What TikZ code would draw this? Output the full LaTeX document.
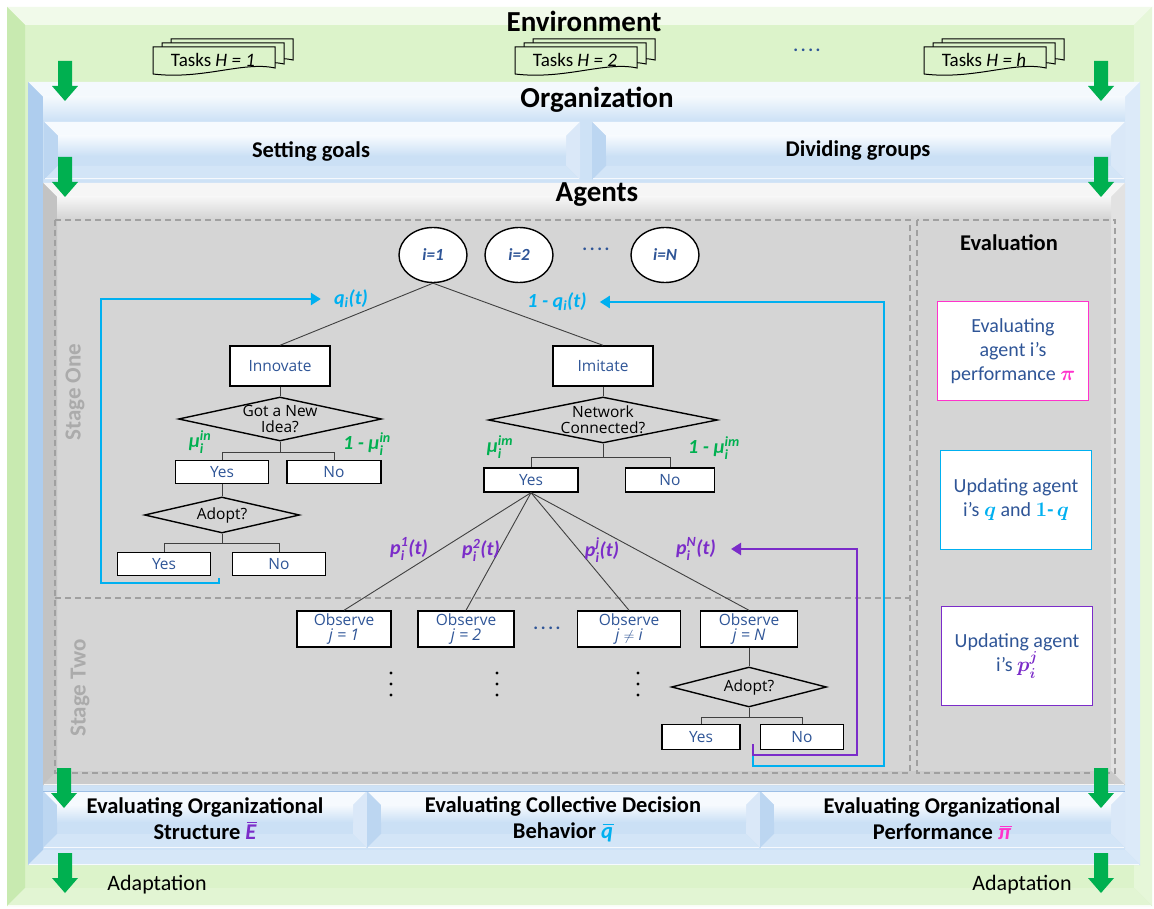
\documentclass[tikz,border=0pt]{standalone}
\usepackage{fontspec}
\usepackage{amsmath}
\usepackage{bm}
\setmainfont{Carlito}
\newfontfamily\boxfont{Open Sans}
\usetikzlibrary{shapes.geometric,arrows.meta}

% palette
\definecolor{envgreen}{HTML}{DCF3CA}
\definecolor{envgreentop}{HTML}{F1FAEA}
\definecolor{envgreenleft}{HTML}{C8EAB0}
\definecolor{envgreenright}{HTML}{E6F7D9}
\definecolor{envgreenbot}{HTML}{E2F5D3}
\definecolor{orgblue}{HTML}{CEE2F6}
\definecolor{orgbluetop}{HTML}{F4F9FD}
\definecolor{orgblueleft}{HTML}{AECDEE}
\definecolor{orgblueright}{HTML}{DCEAF9}
\definecolor{orgbluebot}{HTML}{D6E7F8}
\definecolor{barblue}{HTML}{CBE0F5}
\definecolor{barbluetop}{HTML}{F6FAFE}
\definecolor{barblueleft}{HTML}{BCD6F1}
\definecolor{barblueright}{HTML}{DAE8F8}
\definecolor{barbluebot}{HTML}{D3E5F7}
\definecolor{agentgray}{HTML}{D5D5D5}
\definecolor{agentgraytop}{HTML}{F6F6F6}
\definecolor{agentgrayleft}{HTML}{C3C3C3}
\definecolor{agentgrayright}{HTML}{E2E2E2}
\definecolor{agentgraybot}{HTML}{CBCBCB}
\definecolor{arrowgreen}{HTML}{00B050}
\definecolor{txtblue}{HTML}{2F5597}
\definecolor{qcyan}{HTML}{00B0F0}
\definecolor{ppurple}{HTML}{7B2CC9}
\definecolor{mugreen}{HTML}{00B050}
\definecolor{pimag}{HTML}{FF33CC}
\definecolor{stagegray}{HTML}{ABABAB}
\definecolor{dashgray}{HTML}{A0A0A0}
\definecolor{linkgray}{HTML}{404040}
\definecolor{edgeblue}{HTML}{9DBFE6}

\newcommand\fs[2]{\fontsize{#1}{#2}\selectfont}
% stacked super/subscript in the running text font
\newcommand\supsub[2]{$^{\text{#1}}_{\text{#2}}$}
\newcommand\dotrow{.\kern2.6pt.\kern2.6pt.\kern2.6pt.}
% bar over a symbol
\newcommand\obar[1]{\setbox0\hbox{#1}\rlap{\kern1.5pt\raisebox{\dimexpr\ht0+1.8pt\relax}{\rule{\dimexpr\wd0-1pt\relax}{1.3pt}}}\box0}

% bevelled panel: (x1,y1) (x2,y2) bevel-depth colour-name
\newcommand\bevelpanel[6]{%
  \fill[#6] (#1,#2) rectangle (#3,#4);
  \fill[#6top] (#1,#2) -- (#3,#2) -- ({#3-#5},{#2+#5}) -- ({#1+#5},{#2+#5}) -- cycle;
  \fill[#6left] (#1,#2) -- ({#1+#5},{#2+#5}) -- ({#1+#5},{#4-#5}) -- (#1,#4) -- cycle;
  \fill[#6right] (#3,#2) -- (#3,#4) -- ({#3-#5},{#4-#5}) -- ({#3-#5},{#2+#5}) -- cycle;
  \fill[#6bot] (#1,#4) -- (#3,#4) -- ({#3-#5},{#4-#5}) -- ({#1+#5},{#4-#5}) -- cycle;
  \draw[white, line width=1pt, opacity=.8] ({#1+1},{#4-1}) -- ({#3-1},{#4-1});
}

% downward block arrow: centre x, top y
\newcommand\garrow[2]{%
  \fill[arrowgreen] ({#1-7},#2) -- ({#1+7},#2) -- ({#1+7},{#2+25}) -- ({#1+13},{#2+25})
    -- (#1,{#2+40}) -- ({#1-13},{#2+25}) -- ({#1-7},{#2+25}) -- cycle;}

% stack of three task sheets: left x, top y of front sheet
\newcommand\taskstack[2]{%
  \foreach \k in {2,1,0} {
    \filldraw[fill=envgreen, draw=black, line width=1pt]
      ({#1+9*\k},{#2-4*\k}) -- ({#1+122+9*\k},{#2-4*\k}) -- ({#1+122+9*\k},{#2+21-4*\k})
      .. controls ({#1+90+9*\k},{#2+14-4*\k}) and ({#1+50+9*\k},{#2+33-4*\k}) .. ({#1+9*\k},{#2+27-4*\k}) -- cycle;
  }}

\begin{document}
\begin{tikzpicture}[x=1pt,y=-1pt,
  fbox/.style={draw=black, line width=1.4pt, fill=white, inner sep=0pt,
    font=\boxfont\fs{15.5}{17}, text=txtblue, align=center},
  dec/.style={diamond, draw=black, line width=1.4pt, inner sep=0pt},
  dectext/.style={font=\boxfont\fs{15.5}{16}, text=black, align=center},
  agent/.style={ellipse, draw=black, line width=1.4pt, fill=white, minimum width=68,
    minimum height=55, inner sep=0pt, font=\fs{17}{18}\bfseries\itshape, text=txtblue},
  link/.style={draw=linkgray, line width=0.9pt},
  qarrow/.style={draw=qcyan, line width=2.4pt, -{Triangle[length=10pt,width=12pt]}},
  parrow/.style={draw=ppurple, line width=2.4pt, -{Triangle[length=10pt,width=12pt]}},
  qlab/.style={font=\fs{20}{22}\bfseries\itshape, text=qcyan, inner sep=0pt},
  mulab/.style={font=\fs{20}{22}\bfseries\itshape, text=mugreen, inner sep=0pt},
  plab/.style={font=\fs{20}{22}\bfseries\itshape, text=ppurple, inner sep=0pt},
  title/.style={font=\fs{29}{30}\bfseries, text=black},
  bartext/.style={font=\fs{22.5}{26}\bfseries, text=black, align=center},
  evalbox/.style={draw, line width=1.4pt, fill=white, minimum width=151, minimum height=99,
    inner sep=0pt, font=\fs{20}{24}, text=txtblue, align=center},
  stagelab/.style={rotate=90, font=\fs{23}{24}\bfseries, text=stagegray},
  dashbox/.style={draw=dashgray, line width=1.2pt, dash pattern=on 6pt off 4pt},
  dots/.style={font=\fs{18}{18}\bfseries, text=txtblue, inner sep=0pt},
  plain/.style={font=\fs{22}{24}, text=black}
]
\useasboundingbox (0,0) rectangle (1154,909);
\fill[white] (0,0) rectangle (1154,909);

% ---------------- Environment
\bevelpanel{7}{7}{1152}{906}{18}{envgreen}
\node[title] (envtitle) at (584,21) {Environment};
\taskstack{153}{47}
\node[font=\fs{19}{20}] (task1) at (213,60) {Tasks \textit{H = 1}};
\taskstack{515}{47}
\node[font=\fs{19}{20}] (task2) at (575,60) {Tasks \textit{H = 2}};
\node[dots] (taskdots) at (807,50) {\dotrow};
\taskstack{924}{47}
\node[font=\fs{19}{20}] (taskh) at (984,60) {Tasks \textit{H = h}};

% ---------------- Organization
\bevelpanel{28}{82}{1140}{865}{15}{orgblue}
\shade[top color=orgbluetop, bottom color=orgblue] (43,97) rectangle (1125,120);
\node[title] (orgtitle) at (597,100) {Organization};
\bevelpanel{44}{122}{580}{180}{14}{barblue}
\shade[top color=barbluetop, bottom color=barblue] (58,136) rectangle (566,156);
\node[font=\fs{22.5}{24}\bfseries] (goals) at (311,151) {Setting goals};
\bevelpanel{592}{122}{1125}{180}{14}{barblue}
\shade[top color=barbluetop, bottom color=barblue] (606,136) rectangle (1111,156);
\node[font=\fs{22.5}{24}\bfseries] (groups) at (858,151) {Dividing groups};

% ---------------- Agents
\bevelpanel{43}{183}{1125}{785}{14}{agentgray}
\shade[top color=agentgraytop, bottom color=agentgray] (57,197) rectangle (1111,218);
\node[title] (agtitle) at (597,195) {Agents};
\draw[dashbox] (55,220) rectangle (910,773);
\draw[dashbox] (917,220) rectangle (1115,773);
\draw[dashbox] (55,598) -- (910,598);
\node[stagelab] (stage1) at (75,392) {Stage One};
\node[stagelab] (stage2) at (80,688) {Stage Two};

% agents row
\node[agent] (a1) at (433,255) {i=1};
\node[agent] (a2) at (519,255) {i=2};
\node[dots] (adots) at (596,249) {\dotrow};
\node[agent] (aN) at (665,255) {i=N};

% innovation branch
\node[fbox, minimum width=100, minimum height=40] (inno) at (280,366) {Innovate};
\node[dec, minimum width=203, minimum height=44,
  label={[dectext]center:Got a New\\Idea?}] (idea) at (280,419) {};
\node[fbox, minimum width=93, minimum height=23] (yes1) at (222,472) {Yes};
\node[fbox, minimum width=94, minimum height=23] (no1) at (334,472) {No};
\node[dec, minimum width=155, minimum height=36,
  label={[dectext]center:Adopt?}] (adopt1) at (222,515) {};
\node[fbox, minimum width=93, minimum height=23] (yes2) at (164,564) {Yes};
\node[fbox, minimum width=93, minimum height=23] (no2) at (279,564) {No};

% imitation branch
\node[fbox, minimum width=100, minimum height=40] (imit) at (603,366) {Imitate};
\node[dec, minimum width=229, minimum height=46,
  label={[dectext]center:Network\\Connected?}] (net) at (603,420) {};
\node[fbox, minimum width=94, minimum height=24] (yes3) at (531,480) {Yes};
\node[fbox, minimum width=89, minimum height=24] (no3) at (670,480) {No};

% observation targets
\node[fbox, minimum width=94, minimum height=36] (obs1) at (344,629) {Observe\\[-2pt]{\fs{16}{16}\itshape j = 1}};
\node[fbox, minimum width=96, minimum height=36] (obs2) at (466,629) {Observe\\[-2pt]{\fs{16}{16}\itshape j = 2}};
\node[fbox, minimum width=103, minimum height=36] (obs3) at (629,629) {Observe\\[-2pt]{\fs{16}{16}\itshape j} $\neq$ {\fs{16}{16}\itshape i}};
\node[fbox, minimum width=97, minimum height=36] (obs4) at (749,629) {Observe\\[-2pt]{\fs{16}{16}\itshape j = N}};
\node[dots] (odots) at (547,628) {\dotrow};
\foreach \x in {391,497,638} \foreach \y in {673,684,695} \fill (\x,\y) circle (1.7);
\node[dec, minimum width=155, minimum height=40,
  label={[dectext]center:Adopt?}] (adopt2) at (749,687) {};
\node[fbox, minimum width=78, minimum height=25] (yes4) at (701,737) {Yes};
\node[fbox, minimum width=83, minimum height=25] (no4) at (802,737) {No};

% tree connectors
\draw[link] (a1.south) -- (inno.north);
\draw[link] (a1.south) -- (imit.north);
\draw[link] (inno.south) -- (idea.north);
\draw[link] (idea.south) -- ++(0,11) -| (yes1.north);
\draw[link] (idea.south) -- ++(0,11) -| (no1.north);
\draw[link] (yes1.south) -- (adopt1.north);
\draw[link] (adopt1.south) -- ++(0,10) -| (yes2.north);
\draw[link] (adopt1.south) -- ++(0,10) -| (no2.north);
\draw[link] (imit.south) -- (net.north);
\draw[link] (net.south) -- ++(0,14) -| (yes3.north);
\draw[link] (net.south) -- ++(0,14) -| (no3.north);
\foreach \o in {obs1,obs2,obs3,obs4} \draw[link] (yes3.south) -- (\o.north);
\draw[link] (obs4.south) -- (adopt2.north);
\draw[link] (adopt2.south) -- ++(0,10) -| (yes4.north);
\draw[link] (adopt2.south) -- ++(0,10) -| (no4.north);

% probability labels
\node[qlab] (ql) at (351,299) {q\textsubscript{i}(t)};
\node[qlab] (qr) at (557,302) {1 - q\textsubscript{i}(t)};
\node[mulab] (mu1) at (200,442) {μ\supsub{in}{i}};
\node[mulab] (mu2) at (367,444) {1 - μ\supsub{in}{i}};
\node[mulab] (mu3) at (500,447) {μ\supsub{im}{i}};
\node[mulab] (mu4) at (714,448) {1 - μ\supsub{im}{i}};
\node[plab] (p1) at (409,549) {p\supsub{1}{i}(t)};
\node[plab] (p2) at (481,550) {p\supsub{2}{i}(t)};
\node[plab] (pj) at (602,550) {p\supsub{j}{i}(t)};
\node[plab] (pN) at (696,549) {p\supsub{N}{i}(t)};

% feedback loops
\coordinate (loopA) at (219,578);
\coordinate (loopB) at (753,744);
\draw[qarrow] (loopA) |- (101,583) |- ([xshift=-13pt]ql.west);
\draw[qarrow] (loopB) |- (884,766) |- ([xshift=13pt]qr.east);
\draw[parrow] (loopB) |- (857,755) |- ([xshift=15pt]pN.east);

% evaluation column
\node[font=\fs{22.5}{24}\bfseries] (evaltitle) at (1009,243) {Evaluation};
\node[evalbox, draw=pimag] (evpi) at (1013,351)
  {Evaluating\\agent i’s\\performance \textcolor{pimag}{$\bm{\pi}$}};
\node[evalbox, draw=qcyan] (evq) at (1016,500)
  {Updating agent\\i’s \textcolor{qcyan}{$\bm{q}$} and \textcolor{qcyan}{$\bm{1}$\textbf{-}\,$\bm{q}$}};
\node[evalbox, draw=ppurple] (evp) at (1017,656)
  {Updating agent\\i’s \textcolor{ppurple}{$\bm{p_i^j}$}};

% ---------------- evaluation bars
\bevelpanel{43}{791}{367}{848}{14}{barblue}
\bevelpanel{367}{791}{760}{848}{14}{barblue}
\bevelpanel{760}{791}{1125}{848}{14}{barblue}
\shade[top color=barbluetop, bottom color=barblue] (57,805) rectangle (353,822);
\shade[top color=barbluetop, bottom color=barblue] (381,805) rectangle (746,822);
\shade[top color=barbluetop, bottom color=barblue] (774,805) rectangle (1111,822);
\draw[edgeblue, line width=0.8pt] (43,791) -- (1125,791);
\node[bartext] (barE) at (205,819)
  {Evaluating Organizational\\Structure \textcolor{ppurple}{\obar{\itshape E}}};
\node[bartext] (barq) at (563,819)
  {Evaluating Collective Decision\\Behavior \textcolor{qcyan}{\obar{\itshape q}}};
\node[bartext] (barpi) at (942,819)
  {Evaluating Organizational\\Performance \textcolor{pimag}{\obar{\itshape π}}};

\node[plain] (adaptL) at (157,885) {Adaptation};
\node[plain] (adaptR) at (1022,885) {Adaptation};

% ---------------- flow arrows
\garrow{65}{61}
\garrow{1101}{61}
\garrow{65}{157}
\garrow{1101}{157}
\garrow{64}{768}
\garrow{1101}{768}
\garrow{65}{853}
\garrow{1101}{853}
\end{tikzpicture}
\end{document}
